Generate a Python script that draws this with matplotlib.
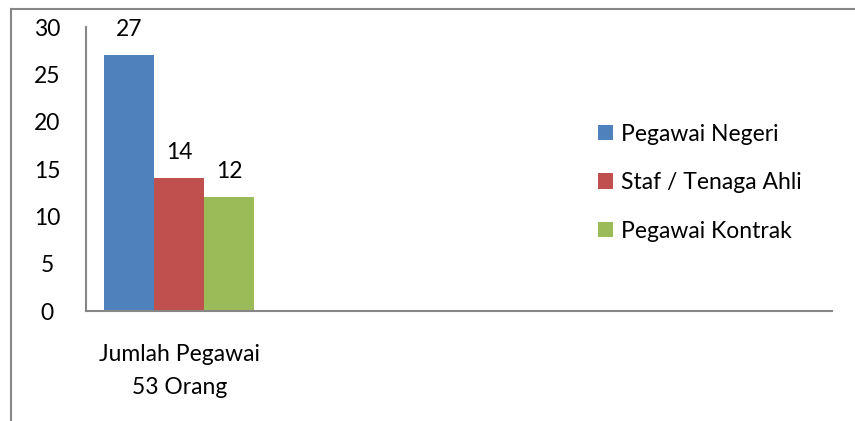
import matplotlib.pyplot as plt
from matplotlib.lines import Line2D
import numpy as np

# data
categories = ["Jumlah Pegawai\n53 Orang", "", "", ""]
series_names = ["Pegawai Negeri", "Staf / Tenaga Ahli", "Pegawai Kontrak"]
series_values = [27, 14, 12]
colors = ["#4F81BD", "#C0504D", "#9BBB59"]

plt.rcParams['font.family'] = ['Lato', 'DejaVu Sans']
W, H = 855, 421
fs = 16.5
fig = plt.figure(figsize=(W / 100, H / 100), dpi=100)
ax = fig.add_axes([86 / W, 1 - 311 / H, (832 - 86) / W, (311 - 27) / H])

bar_w = 50 / 186
x0 = 0
for i, (name, val, col) in enumerate(zip(series_names, series_values, colors)):
    xpos = x0 + (i - 1) * bar_w
    b = ax.bar(xpos, val, width=bar_w, color=col, label=name)
    ax.bar_label(b, padding=11, fontsize=fs)

ax.set_xlim(-0.5, len(categories) - 0.5)
ax.set_ylim(0, 30)
ax.set_yticks(range(0, 31, 5))
ax.tick_params(axis='y', length=0, pad=28, labelsize=fs)
for t in ax.get_yticklabels():
    t.set_horizontalalignment('center')
ax.set_xticks([0])
ax.set_xticklabels([categories[0]], fontsize=fs, linespacing=1.7)
ax.tick_params(axis='x', length=0, pad=24)

for s in ['top', 'right']:
    ax.spines[s].set_visible(False)
for s in ['left', 'bottom']:
    ax.spines[s].set_color('#868686')
    ax.spines[s].set_linewidth(1.5)

leg = ax.legend(loc='upper left', bbox_to_anchor=(577 / W, 1 - 103 / H),
                bbox_transform=fig.transFigure, frameon=False, fontsize=fs,
                handlelength=0.68, handleheight=0.68, handletextpad=0.35,
                labelspacing=1.2)

# outer chart border (cropped: only left and top visible)
fig.add_artist(Line2D([10.5 / W, 10.5 / W], [0, 1 - 8.5 / H], color='#868686', lw=1.5))
fig.add_artist(Line2D([10.5 / W, 1], [1 - 8.5 / H, 1 - 8.5 / H], color='#868686', lw=1.5))

fig.savefig("out.png", dpi=100)
